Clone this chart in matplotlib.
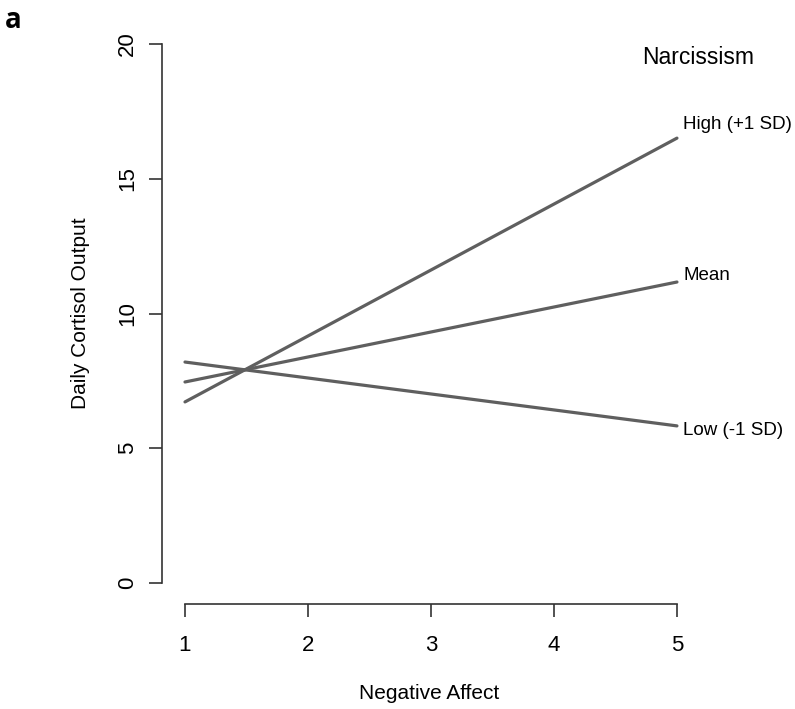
import numpy as np
import matplotlib.pyplot as plt

plt.rcParams['font.family'] = ['Liberation Sans', 'DejaVu Sans']

# simple slopes of cortisol on negative affect, by narcissism level
neg_affect = [1, 5]
high_sd = [6.72, 16.51]
mean_lvl = [7.46, 11.17]
low_sd = [8.20, 5.83]
line_labels = ['High (+1 SD)', 'Mean', 'Low (-1 SD)']
x_ticks = [1, 2, 3, 4, 5]
y_ticks = [0, 5, 10, 15, 20]

fig = plt.figure(figsize=(7.95, 7.09), dpi=100)
ax = fig.add_axes([162 / 795, 1 - 604 / 709, 535 / 795, 582 / 709])

col = '#5f5f5f'
label_dy = [0.52, 0.26, -0.18]  # label nudges off the line ends
for ys, lab, dy in zip([high_sd, mean_lvl, low_sd], line_labels, label_dy):
    ax.plot(neg_affect, ys, color=col, lw=2.3, solid_capstyle='round')
    ax.text(neg_affect[1] + 0.05, ys[1] + dy, lab, fontsize=13.5,
            ha='left', va='center')

ax.text(5.17, 19.5, 'Narcissism', fontsize=16.5, ha='center', va='center')

ax.set_xlim(0.813, 5.163)
ax.set_ylim(-0.78, 20.82)
for s in ['top', 'right']:
    ax.spines[s].set_visible(False)
ax.spines['left'].set_bounds(0, 20)
ax.spines['bottom'].set_bounds(1, 5)
for s in ['left', 'bottom']:
    ax.spines[s].set_color('#333333')
    ax.spines[s].set_linewidth(1.2)
ax.set_xticks(x_ticks)
ax.set_yticks(y_ticks)
ax.tick_params(direction='out', length=9.4, width=1.2, color='#333333',
               labelsize=16)
ax.tick_params(axis='x', pad=13)
ax.tick_params(axis='y', pad=8)
plt.setp(ax.get_yticklabels(), rotation=90, va='center')
ax.set_xlabel('Negative Affect', fontsize=15, labelpad=20)
ax.set_ylabel('Daily Cortisol Output', fontsize=15, labelpad=19)

fig.text(5 / 795, 1 - 28 / 709, 'a', fontsize=20, fontweight='bold',
         family=['Open Sans', 'DejaVu Sans'])

fig.savefig('out.png', dpi=100)
